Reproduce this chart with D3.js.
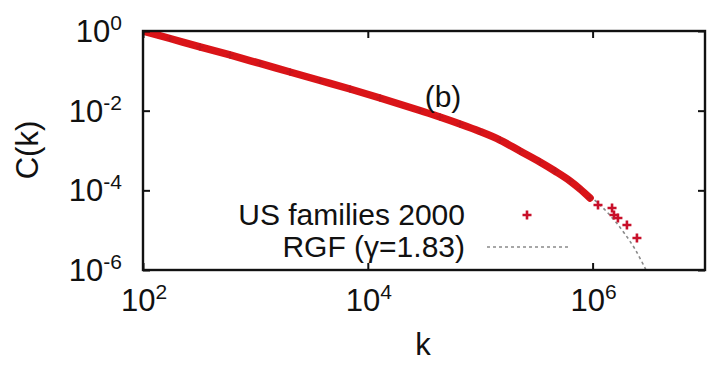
<!DOCTYPE html>
<html>
<head>
<meta charset="utf-8">
<script src="https://cdn.jsdelivr.net/npm/d3@7"></script>
<style>
  html, body { margin: 0; padding: 0; background: #fff; }
  svg { display: block; }
  text { font-family: "Liberation Sans", Arial, Helvetica, sans-serif; fill: #111; }
</style>
</head>
<body>
<svg id="chart" width="710" height="366"></svg>
<script>
// Cumulative distribution C(k) of US family sizes (2000)
const familyK = [100, 174, 321, 594, 1099, 2032, 3758, 6950, 12850, 29100, 43850, 66100,
  99500, 150000, 226000, 340000, 462000, 630000, 773000, 948000,
  1117000, 1489000, 1550000, 1680000, 2020000, 2480000];
const familyC = [1, 0.648, 0.397, 0.250, 0.153, 0.0935, 0.0572, 0.0350, 0.0208, 0.01009, 0.00693, 0.00462,
  0.00300, 0.001834, 0.000971, 0.000514, 0.000305, 0.0001714, 0.000108, 0.0000641,
  0.0000428, 0.0000360, 0.0000240, 0.0000202, 0.0000135, 0.00000635];

// RGF fit curve, gamma = 1.83
const rgfK = [100, 1099, 12850, 99500, 340000, 773000, 1164000, 1580000, 1940000, 2380000, 2810000, 3110000];
const rgfC = [1, 0.153, 0.0208, 0.00300, 0.000514, 0.000108, 0.0000428, 0.0000170, 0.0000080, 0.00000336, 0.00000141, 0.00000079];

// Axis tick exponents
const xTickExps = [2, 4, 6];
const yTickExps = [0, -2, -4, -6];

const legendLabels = ["US families 2000", "RGF (\u03b3=1.83)"];
const panelLabel = "(b)";

const svg = d3.select("#chart");
const margin = { left: 143, right: 5, top: 31, bottom: 96 };
const W = 710, H = 366;

const x = d3.scaleLog().domain([1e2, 1e7]).range([margin.left, W - margin.right]);
const y = d3.scaleLog().domain([1e-6, 1e0]).range([H - margin.bottom, margin.top]);

const data = familyK.map((k, i) => ({ k, c: familyC[i] }));
const rgf = rgfK.map((k, i) => ({ k, c: rgfC[i] }));

svg.append("defs").append("clipPath").attr("id", "plotClip")
  .append("rect")
  .attr("x", x.range()[0]).attr("y", y.range()[1])
  .attr("width", x.range()[1] - x.range()[0])
  .attr("height", y.range()[0] - y.range()[1]);

const plot = svg.append("g").attr("clip-path", "url(#plotClip)");

// Fit curve (dashed grey)
const line = d3.line().x(d => x(d.k)).y(d => y(d.c)).curve(d3.curveMonotoneX);
plot.append("path")
  .datum(rgf)
  .attr("d", line)
  .attr("fill", "none")
  .attr("stroke", "#8a8a8a")
  .attr("stroke-width", 1.6)
  .attr("stroke-dasharray", "3,3");

// Dense part of the distribution: overlapping points form a continuous band
const dense = data.filter(d => d.k < 1e6);
const sparse = data.filter(d => d.k >= 1e6);
plot.append("path")
  .datum(dense)
  .attr("d", line)
  .attr("fill", "none")
  .attr("stroke", "#da1418")
  .attr("stroke-width", 7.5)
  .attr("stroke-linecap", "round");

// "+" markers
const plus = (cx, cy, r) => `M${cx - r},${cy}H${cx + r}M${cx},${cy - r}V${cy + r}`;
plot.append("g").selectAll("path")
  .data(dense)
  .join("path")
  .attr("d", d => plus(x(d.k), y(d.c), 3.4))
  .attr("stroke", "#c8141c")
  .attr("stroke-width", 2)
  .attr("fill", "none");
plot.append("g").selectAll("path")
  .data(sparse)
  .join("path")
  .attr("d", d => plus(x(d.k), y(d.c), 4.5))
  .attr("stroke", "#c8102a")
  .attr("stroke-width", 2.6)
  .attr("fill", "none");

// Axes with inward ticks, mirrored on all sides
const tickLen = 7;
const xTicks = xTickExps.map(e => Math.pow(10, e));
const yTicks = yTickExps.map(e => Math.pow(10, e));
const y0 = y.range()[0], y1 = y.range()[1];
const x0 = x.range()[0], x1 = x.range()[1];

svg.append("g").attr("transform", `translate(0,${y0})`)
  .call(d3.axisBottom(x).tickValues(xTicks).tickSize(-tickLen).tickSizeOuter(0).tickFormat(() => ""))
  .call(g => g.select(".domain").remove());
svg.append("g").attr("transform", `translate(0,${y1})`)
  .call(d3.axisTop(x).tickValues(xTicks).tickSize(-tickLen).tickSizeOuter(0).tickFormat(() => ""))
  .call(g => g.select(".domain").remove());
svg.append("g").attr("transform", `translate(${x0},0)`)
  .call(d3.axisLeft(y).tickValues(yTicks).tickSize(-tickLen).tickSizeOuter(0).tickFormat(() => ""))
  .call(g => g.select(".domain").remove());
svg.append("g").attr("transform", `translate(${x1},0)`)
  .call(d3.axisRight(y).tickValues(yTicks).tickSize(-tickLen).tickSizeOuter(0).tickFormat(() => ""))
  .call(g => g.select(".domain").remove());
svg.selectAll(".tick line").attr("stroke", "#111").attr("stroke-width", 2);

// Frame
svg.append("rect")
  .attr("x", x0).attr("y", y1)
  .attr("width", x1 - x0).attr("height", y0 - y1)
  .attr("fill", "none").attr("stroke", "#111").attr("stroke-width", 2.4);

// Power-of-ten tick labels
function powLabel(sel, exp) {
  sel.append("tspan").text("10");
  sel.append("tspan").attr("dy", -12).attr("font-size", 21).text(String(exp));
}
svg.append("g").selectAll("text")
  .data(xTickExps)
  .join("text")
  .attr("x", e => x(Math.pow(10, e)) + 1)
  .attr("y", 311)
  .attr("font-size", 31)
  .attr("text-anchor", "middle")
  .each(function (e) { powLabel(d3.select(this), e); });

svg.append("g").selectAll("text")
  .data(yTickExps)
  .join("text")
  .attr("x", 122)
  .attr("y", e => y(Math.pow(10, e)) + 11)
  .attr("font-size", 31)
  .attr("text-anchor", "end")
  .each(function (e) { powLabel(d3.select(this), e); });

// Axis titles
svg.append("text").attr("x", 423).attr("y", 355).attr("font-size", 31)
  .attr("text-anchor", "middle").text("k");
svg.append("text").attr("transform", "translate(38,150) rotate(-90)")
  .attr("font-size", 31).attr("text-anchor", "middle").text("C(k)");

// Panel label
svg.append("text").attr("x", 443).attr("y", 107).attr("font-size", 30)
  .attr("text-anchor", "middle").text(panelLabel);

// Legend
const legend = svg.append("g");
legend.append("text").attr("x", 465).attr("y", 225).attr("font-size", 30)
  .attr("text-anchor", "end").text(legendLabels[0]);
legend.append("text").attr("x", 465).attr("y", 257).attr("font-size", 30)
  .attr("text-anchor", "end").text(legendLabels[1]);
legend.append("path").attr("d", plus(527, 215, 4.5))
  .attr("stroke", "#c8102a").attr("stroke-width", 2.6);
legend.append("line").attr("x1", 487).attr("x2", 570).attr("y1", 247).attr("y2", 247)
  .attr("stroke", "#8a8a8a").attr("stroke-width", 1.6).attr("stroke-dasharray", "3,3");
</script>
</body>
</html>
